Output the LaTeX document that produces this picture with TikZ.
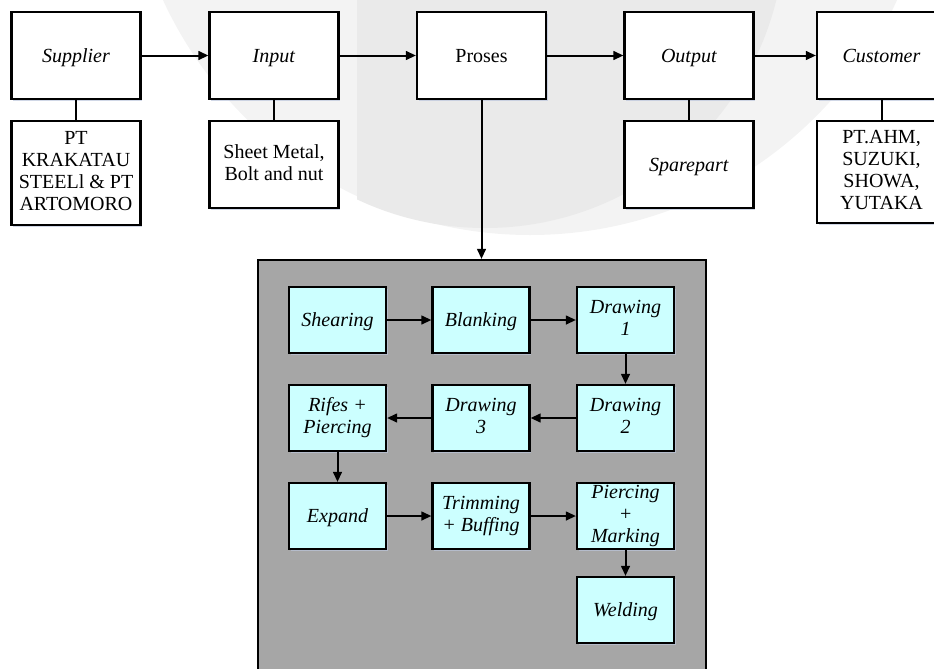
\documentclass[tikz,border=0pt]{standalone}
\usepackage{fontspec}
\setmainfont{Liberation Serif}
\usetikzlibrary{arrows.meta,shadows}
\definecolor{wmlight}{HTML}{F3F3F3}
\definecolor{wmdark}{HTML}{EAEAEA}
\definecolor{panel}{HTML}{A6A6A6}
\definecolor{stepfill}{HTML}{CCFFFF}
\definecolor{shade}{HTML}{BCC6DC}
% strut that centres capitals on the node centre
\newcommand\labstrut{\rule[-3.3pt]{0pt}{16.5pt}}
\begin{document}
\begin{tikzpicture}[x=0.75pt,y=-0.75pt,
  txt/.style={font=\fontsize{15}{16.5}\selectfont,
    execute at begin node=\labstrut,execute at end node=\labstrut},
  box/.style={txt,draw=black,line width=1.6pt,fill=white,align=center,
    inner sep=1pt,minimum width=96.75pt,
    drop shadow={shadow xshift=1.2pt,shadow yshift=-1.2pt,fill=shade,opacity=.7}},
  topbox/.style={box,minimum height=65.25pt},
  stepbox/.style={box,fill=stepfill,minimum width=72.75pt,minimum height=49.5pt},
  link/.style={line width=1.5pt},
  flow/.style={line width=1.5pt,-{Triangle[length=7.5pt,width=6.5pt]}}]

% page frame
\useasboundingbox (0,0) rectangle (934,668);

% faint background emblem
\begin{scope}
  \clip (0,0) rectangle (934,668);
  \fill[wmlight] (530,-169) circle (404);
  \begin{scope}
    \clip (357,-400) rectangle (900,400);
    \fill[wmdark] (485,-72) circle (300);
  \end{scope}
\end{scope}

% main chain
\node[topbox] (sup)  at (76,55.5)   {\textit{Supplier}};
\node[topbox] (inp)  at (274,55.5)  {\textit{Input}};
\node[topbox] (pro)  at (481.5,55.5){Proses};
\node[topbox] (out)  at (689,55.5)  {\textit{Output}};
\node[topbox] (cus)  at (881.5,55.5){\textit{Customer}};

% details under the chain
\node[box,minimum height=78pt]    (supd) at (76,173)    {PT\\KRAKATAU\\STEELl \& PT\\ARTOMORO};
\node[box,minimum height=65.25pt] (inpd) at (274,164.5) {Sheet Metal,\\Bolt and nut};
\node[box,minimum height=65.25pt] (outd) at (689,164.5) {\textit{Sparepart}};
\node[box,minimum height=76.5pt]  (cusd) at (881.5,172) {PT.AHM,\\SUZUKI,\\SHOWA,\\YUTAKA};

\draw[flow] (sup) -- (inp);
\draw[flow] (inp) -- (pro);
\draw[flow] (pro) -- (out);
\draw[flow] (out) -- (cus);
\draw[link] (sup) -- (supd);
\draw[link] (inp) -- (inpd);
\draw[link] (out) -- (outd);
\draw[link] (cus) -- (cusd);

% process panel
\node[draw=black,line width=1.6pt,fill=panel,minimum width=336pt,minimum height=330pt]
  (panel) at (482,480) {};
\draw[flow] (pro.south) -- (pro.south |- panel.north);

% process steps
\node[stepbox] (s1) at (337.5,320) {\textit{Shearing}};
\node[stepbox] (s2) at (481,320)   {\textit{Blanking}};
\node[stepbox] (s3) at (625.5,320) {\textit{Drawing}\\\textit{1}};
\node[stepbox] (s4) at (625.5,418) {\textit{Drawing}\\\textit{2}};
\node[stepbox] (s5) at (481,418)   {\textit{Drawing}\\\textit{3}};
\node[stepbox] (s6) at (337.5,418) {\textit{Rifes +}\\\textit{Piercing}};
\node[stepbox] (s7) at (337.5,516) {\textit{Expand}};
\node[stepbox] (s8) at (481,516)   {\textit{Trimming}\\\textit{+ Buffing}};
\node[stepbox] (s9) at (625.5,516) {\textit{Piercing}\\\textit{+}\\\textit{Marking}};
\node[stepbox] (s10) at (625.5,610){\textit{Welding}};

\draw[flow] (s1) -- (s2);
\draw[flow] (s2) -- (s3);
\draw[flow] (s3) -- (s4);
\draw[flow] (s4) -- (s5);
\draw[flow] (s5) -- (s6);
\draw[flow] (s6) -- (s7);
\draw[flow] (s7) -- (s8);
\draw[flow] (s8) -- (s9);
\draw[flow] (s9) -- (s10);
\end{tikzpicture}
\end{document}
